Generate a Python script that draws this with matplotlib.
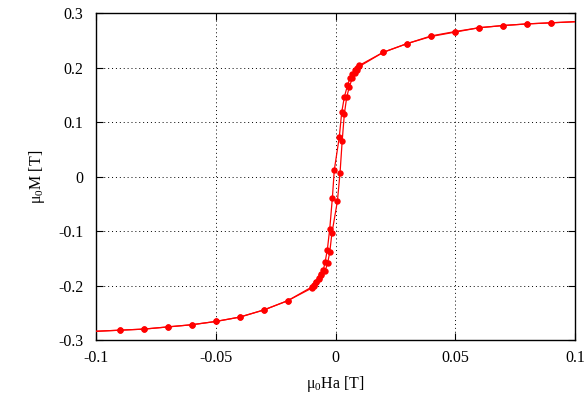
import matplotlib
matplotlib.use("Agg")
import matplotlib.pyplot as plt
from matplotlib.ticker import MultipleLocator

plt.rcParams['font.family'] = ['Liberation Serif', 'DejaVu Serif']
plt.rcParams['mathtext.fontset'] = 'custom'
plt.rcParams['mathtext.rm'] = 'Liberation Serif'
plt.rcParams['mathtext.it'] = 'Liberation Serif:italic'

# Descending branch (from +saturation to -saturation)
desc_x = [0.10, 0.09, 0.08, 0.07, 0.06, 0.05, 0.04, 0.03, 0.02, 0.010, 0.009, 0.008,
          0.007, 0.006, 0.005, 0.0037, 0.0026, 0.0016, -0.0005, -0.0013, -0.0024,
          -0.0034, -0.0043, -0.0051, -0.006, -0.007, -0.008, -0.009, -0.010,
          -0.02, -0.03, -0.04, -0.05, -0.06, -0.07, -0.08, -0.09, -0.10]
desc_y = [0.284, 0.282, 0.280, 0.277, 0.273, 0.266, 0.258, 0.244, 0.228, 0.204, 0.200, 0.195,
          0.188, 0.180, 0.167, 0.146, 0.118, 0.073, 0.012, -0.039, -0.096,
          -0.134, -0.156, -0.172, -0.180, -0.188, -0.194, -0.199, -0.203,
          -0.228, -0.245, -0.258, -0.266, -0.272, -0.276, -0.280, -0.282, -0.284]

# Ascending branch (from -saturation to +saturation)
asc_x = [-0.10, -0.09, -0.08, -0.07, -0.06, -0.05, -0.04, -0.03, -0.02, -0.010, -0.009,
         -0.008, -0.007, -0.006, -0.0043, -0.0033, -0.0024, -0.0015, 0.0008, 0.0019,
         0.0028, 0.0037, 0.0047, 0.0058, 0.007, 0.008, 0.009, 0.010,
         0.02, 0.03, 0.04, 0.05, 0.06, 0.07, 0.08, 0.09, 0.10]
asc_y = [-0.284, -0.282, -0.280, -0.276, -0.272, -0.266, -0.258, -0.245, -0.228, -0.205, -0.200,
         -0.194, -0.186, -0.178, -0.173, -0.159, -0.139, -0.104, -0.045, 0.007,
         0.066, 0.115, 0.146, 0.165, 0.180, 0.189, 0.196, 0.202,
         0.228, 0.244, 0.257, 0.265, 0.273, 0.277, 0.280, 0.282, 0.284]

fig = plt.figure(figsize=(5.87, 3.98), dpi=100)
ax = fig.add_axes([96/587, 1-340/398, (575-96)/587, (340-13)/398])

for xs, ys in [(desc_x, desc_y), (asc_x, asc_y)]:
    ax.plot(xs, ys, color='#ff0000', lw=0.9, marker='o', markersize=4.6,
            markeredgewidth=0, markevery=slice(1, len(xs) - 1), zorder=3)

ax.set_xlim(-0.1, 0.1)
ax.set_ylim(-0.3, 0.3)
ax.set_xticks([-0.1, -0.05, 0, 0.05, 0.1])
ax.set_xticklabels(['-0.1', '-0.05', '0', '0.05', '0.1'])
ax.set_yticks([-0.3, -0.2, -0.1, 0, 0.1, 0.2, 0.3])
ax.set_yticklabels(['-0.3', '-0.2', '-0.1', '0', '0.1', '0.2', '0.3'])
ax.tick_params(axis='both', direction='in', top=True, right=True, length=5, width=0.8,
               labelsize=11.5)
ax.tick_params(axis='x', pad=7)
ax.tick_params(axis='y', pad=9)
ax.grid(True, color='black', linestyle=(0, (1, 3)), linewidth=0.7)
for s in ax.spines.values():
    s.set_linewidth(1.0)

ax.set_xlabel(r'μ$_0$Ha [T]', fontsize=11.5, labelpad=6)
ax.set_ylabel(r'μ$_0$M [T]', fontsize=11.5, labelpad=8)

fig.savefig('out.png', dpi=100)
